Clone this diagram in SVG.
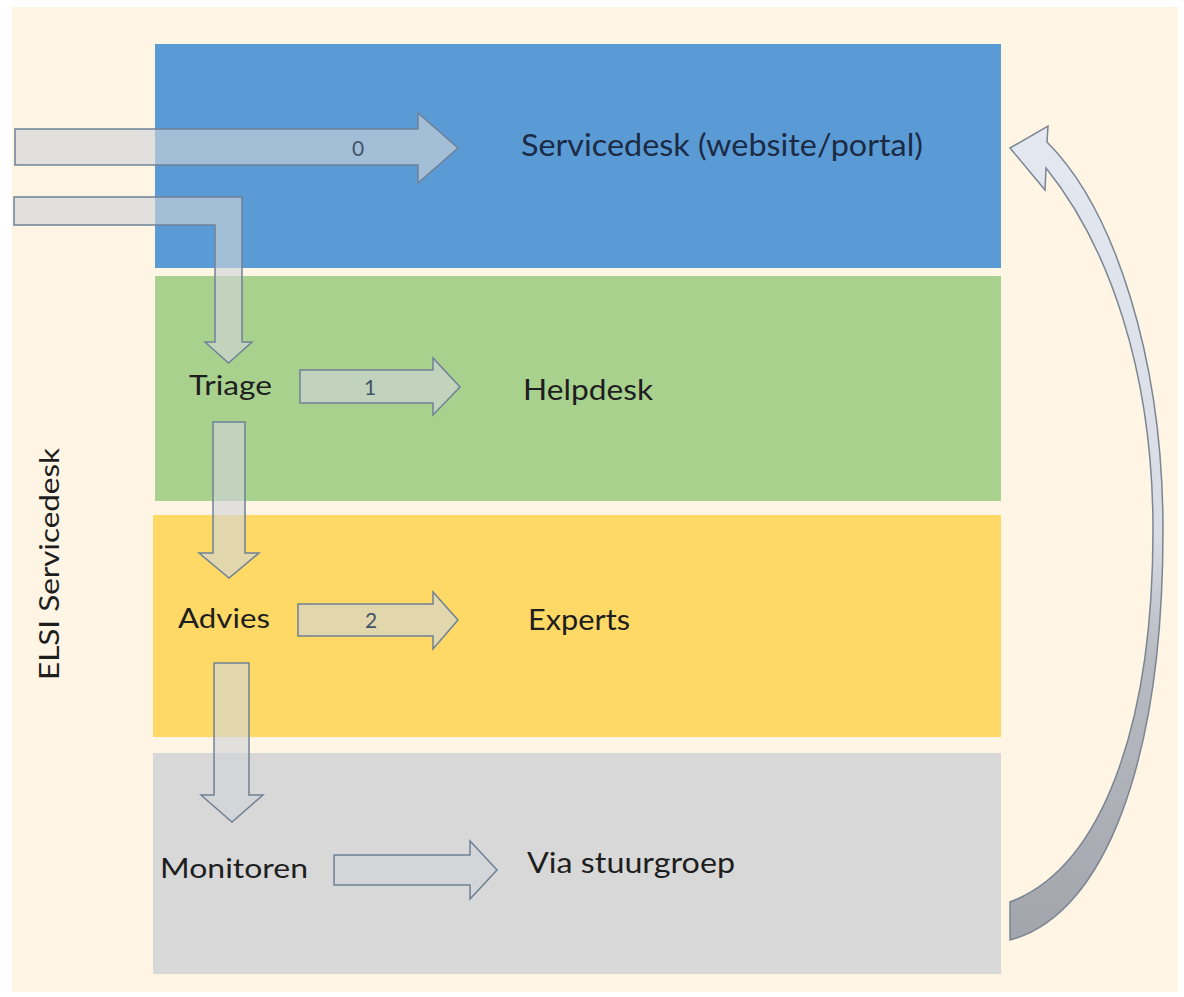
<svg xmlns="http://www.w3.org/2000/svg" width="1184" height="997" viewBox="0 0 1184 997">
<defs>
<style>
.lbl{font-family:Lato,"Liberation Sans",sans-serif;fill:#1e1e1e;}
.num{font-family:Lato,"Liberation Sans",sans-serif;fill:#44546a;font-size:21px;text-anchor:middle;}
.arr{fill:#d0d3d8;fill-opacity:0.62;stroke:#6f8196;stroke-width:1.5;stroke-linejoin:miter;}
</style>
<linearGradient id="curveGrad" x1="0" y1="0" x2="0" y2="1">
<stop offset="0" stop-color="#e4e8f0"/>
<stop offset="0.5" stop-color="#d8dce4"/>
<stop offset="0.65" stop-color="#b9bcc3"/>
<stop offset="1" stop-color="#a2a5ab"/>
</linearGradient>
</defs>
<rect x="0" y="0" width="1184" height="997" fill="#ffffff"/>
<rect x="12" y="7" width="1166" height="985" fill="#fef5e4"/>

<g id="band-servicedesk">
<rect x="155" y="44" width="846" height="224" fill="#5b9bd5"/>
<text class="lbl" x="521" y="156" font-size="31" textLength="402" lengthAdjust="spacingAndGlyphs" style="fill:#1c2b45">Servicedesk (website/portal)</text>
</g>
<g id="band-helpdesk">
<rect x="155" y="276" width="846" height="225" fill="#a9d18e"/>
<text class="lbl" x="523" y="400" font-size="28" textLength="130" lengthAdjust="spacingAndGlyphs">Helpdesk</text>
</g>
<g id="band-experts">
<rect x="153" y="515" width="848" height="222" fill="#ffd966"/>
<text class="lbl" x="528" y="630" font-size="28" textLength="102" lengthAdjust="spacingAndGlyphs">Experts</text>
</g>
<g id="band-stuurgroep">
<rect x="153" y="753" width="848" height="221" fill="#d8d8d8"/>
<text class="lbl" x="527" y="873" font-size="29" textLength="208" lengthAdjust="spacingAndGlyphs">Via stuurgroep</text>
</g>

<g id="side-label">
<text class="lbl" transform="translate(59,680) rotate(-90)" font-size="26" textLength="232" lengthAdjust="spacingAndGlyphs">ELSI Servicedesk</text>
</g>

<g id="node-triage">
<text class="lbl" x="189" y="395" font-size="27" textLength="83" lengthAdjust="spacingAndGlyphs">Triage</text>
</g>
<g id="node-advies">
<text class="lbl" x="178" y="628" font-size="27" textLength="92" lengthAdjust="spacingAndGlyphs">Advies</text>
</g>
<g id="node-monitoren">
<text class="lbl" x="160" y="878" font-size="27" textLength="148" lengthAdjust="spacingAndGlyphs">Monitoren</text>
</g>

<g id="connectors">
<polygon class="arr" points="15,129 418,129 418,113 458,148 418,183 418,165 15,165"/>
<text class="num" x="358" y="156">0</text>
<polygon class="arr" points="14,197 242,197 242,342 252,342 228.5,363 205,342 215,342 215,225 14,225"/>
<polygon class="arr" points="300,370 433,370 433,358 460,387 433,415 433,403 300,403"/>
<text class="num" x="370" y="395">1</text>
<polygon class="arr" points="213,422 245,422 245,553 259,553 229,578 199,553 213,553"/>
<polygon class="arr" points="298,604 433,604 433,592 458,620 433,649 433,636 298,636"/>
<text class="num" x="371" y="628">2</text>
<polygon class="arr" points="214,663 249,663 249,795 263,795 232,822 201,795 214,795"/>
<polygon class="arr" points="334,855 470,855 470,841 497,870 470,899 470,885 334,885"/>
<path d="M1010,902 C1100,868 1153,730 1153,530 C1153,370 1108,245 1046,168 L1045,190 L1010,148 L1048,126 L1047,142 C1115,210 1163,360 1163,530 C1163,760 1105,915 1010,940 Z" fill="url(#curveGrad)" stroke="#7b8594" stroke-width="1.5"/>
</g>
</svg>
